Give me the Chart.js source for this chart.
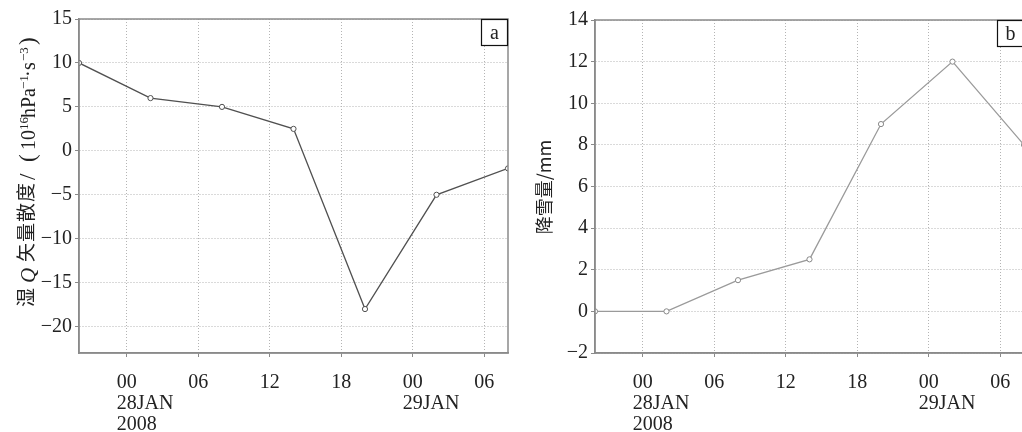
<!DOCTYPE html>
<html><head><meta charset="utf-8">
<script src="https://cdn.jsdelivr.net/npm/chart.js@4/dist/chart.umd.min.js"></script>
<style>
html,body{margin:0;padding:0;background:#fff;overflow:hidden;width:1022px;height:432px;}
#wa{position:absolute;left:0;top:0;width:520px;height:432px;}
#wb{position:absolute;left:514px;top:0;width:510px;height:432px;}
</style></head><body>
<div id="wa"><canvas id="ca"></canvas></div>
<div id="wb"><canvas id="cb"></canvas></div>
<script>
// Data (hours relative to 00 UTC 28 JAN 2008)
const hours = [-4, 2, 8, 14, 20, 26, 32];
const qDivergence = [10, 6, 5, 2.5, -18, -5, -2];
const snowfall = [0, 0, 1.5, 2.5, 9, 12, 8];
const xTickHours = [0, 6, 12, 18, 24, 30];
const xTickLabels = [['00', '28JAN', '2008'], ['06'], ['12'], ['18'], ['00', '29JAN'], ['06']];
const yTicksA = [-20, -15, -10, -5, 0, 5, 10, 15];
const yTicksB = [-2, 0, 2, 4, 6, 8, 10, 12, 14];
const yRangeA = [-23, 15];
const yRangeB = [-2, 14];
const xRange = [-4, 32];
const titleBText = '降雪量/mm';
const panelA = 'a', panelB = 'b';

const SERIF = '"Liberation Serif", "DejaVu Serif", serif';
const CJK = '"Noto Sans CJK SC", sans-serif';
const TXT = '#222';
const FRAME = '#8a8a8a';
const GRID = '#b4b4b4';

function xScale() {
  return {
    type: 'linear', min: xRange[0], max: xRange[1],
    afterBuildTicks(s) { s.ticks = xTickHours.map(v => ({ value: v })); },
    afterFit(s) { s.height = 79; s.paddingLeft = 0; s.paddingRight = 0; },
    ticks: {
      autoSkip: false, maxRotation: 0, align: 'start', labelOffset: -10, padding: 15,
      font: { family: SERIF, size: 20, lineHeight: 1.05 }, color: TXT,
      callback(v) { const i = xTickHours.indexOf(v); return i >= 0 ? xTickLabels[i] : ''; }
    },
    grid: { color: GRID, lineWidth: 1, tickLength: 4, tickColor: FRAME, tickBorderDash: [] },
    border: { color: FRAME, width: 1.5, dash: [1, 2] }
  };
}
function yScale(range, ticks, width) {
  return {
    type: 'linear', min: range[0], max: range[1],
    afterBuildTicks(s) { s.ticks = ticks.map(v => ({ value: v })); },
    afterFit(s) { s.width = width; },
    ticks: {
      autoSkip: false, padding: 3,
      font: { family: SERIF, size: 20 }, color: TXT,
      callback(v) { return String(v).replace('-', '\u2212'); }
    },
    grid: { color: GRID, lineWidth: 1, tickLength: 4, tickColor: FRAME, tickBorderDash: [] },
    border: { color: FRAME, width: 1.5, dash: [1, 2] }
  };
}
function framePlugin(letter) {
  return {
    id: 'frame' + letter,
    afterDraw(chart) {
      const a = chart.chartArea, ctx = chart.ctx;
      ctx.save();
      ctx.strokeStyle = FRAME; ctx.lineWidth = 1.5;
      ctx.strokeRect(a.left, a.top, a.right - a.left, a.bottom - a.top);
      const bw = 27, bh = 27;
      ctx.fillStyle = '#fff';
      ctx.fillRect(a.right - bw, a.top, bw, bh);
      ctx.strokeStyle = '#111'; ctx.lineWidth = 1.2;
      ctx.strokeRect(a.right - bw + 0.5, a.top + 0.5, bw - 1, bh - 1);
      ctx.fillStyle = TXT; ctx.font = '20px ' + SERIF;
      ctx.textAlign = 'center'; ctx.textBaseline = 'middle';
      ctx.fillText(letter, a.right - bw / 2, a.top + bh / 2 + 1);
      ctx.restore();
    }
  };
}
// y-axis title of panel a, pieces laid out along the rotated baseline (u = distance from start)
const titleAPlugin = {
  id: 'titleA',
  afterDraw(chart) {
    const ctx = chart.ctx;
    const C = '19px ' + CJK, S = '20px ' + SERIF, P = '13px ' + SERIF;
    const parts = [
      { t: '湿', f: C, u: 0, v: -1 },
      { t: 'Q', f: 'italic 21px ' + SERIF, u: 24, v: 1 },
      { t: '矢', f: C, u: 45, v: -1 },
      { t: '量', f: C, u: 65, v: -1 },
      { t: '散', f: C, u: 85, v: -1 },
      { t: '度', f: C, u: 105, v: -1 },
      { t: '/', f: '23px ' + SERIF, u: 127, v: 1 },
      { t: '(', f: '23px ' + SERIF, u: 145, v: 1 },
      { t: '10', f: S, u: 157, v: 1 },
      { t: '16', f: P, u: 177, v: -6 },
      { t: 'hPa', f: S, u: 189, v: 1 },
      { t: '\u22121', f: P, u: 218, v: -6 },
      { t: '\u00B7', f: S, u: 230, v: 1 },
      { t: 's', f: S, u: 237, v: 1 },
      { t: '\u22123', f: P, u: 246, v: -6 },
      { t: ')', f: '23px ' + SERIF, u: 262, v: 1 }
    ];
    ctx.save();
    ctx.translate(34, 307); ctx.rotate(-Math.PI / 2);
    ctx.textBaseline = 'alphabetic'; ctx.textAlign = 'left'; ctx.fillStyle = TXT;
    for (const p of parts) { ctx.font = p.f; ctx.fillText(p.t, p.u, p.v); }
    ctx.restore();
  }
};
const titleBPlugin = {
  id: 'titleB',
  afterDraw(chart) {
    const ctx = chart.ctx;
    ctx.save();
    ctx.translate(551 - 514, 187); ctx.rotate(-Math.PI / 2);
    ctx.font = '18px ' + CJK; ctx.fillStyle = TXT;
    ctx.textAlign = 'center'; ctx.textBaseline = 'alphabetic';
    ctx.fillText(titleBText, 0, 0);
    ctx.restore();
  }
};

Chart.defaults.animation = false;

new Chart(document.getElementById('ca'), {
  type: 'line',
  data: { datasets: [{
    data: hours.map((h, i) => ({ x: h, y: qDivergence[i] })),
    borderColor: '#505050', borderWidth: 1.3, tension: 0,
    pointRadius: 2.6, pointHoverRadius: 2.6, pointBackgroundColor: '#fff', pointBorderColor: '#505050', pointBorderWidth: 1
  }] },
  options: {
    responsive: true, maintainAspectRatio: false,
    layout: { autoPadding: false, padding: { top: 19, right: 12, left: 0, bottom: 0 } },
    plugins: { legend: { display: false }, tooltip: { enabled: false } },
    scales: { x: xScale(), y: yScale(yRangeA, yTicksA, 79) }
  },
  plugins: [framePlugin(panelA), titleAPlugin]
});

new Chart(document.getElementById('cb'), {
  type: 'line',
  data: { datasets: [{
    data: hours.map((h, i) => ({ x: h, y: snowfall[i] })),
    borderColor: '#9a9a9a', borderWidth: 1.3, tension: 0,
    pointRadius: 2.6, pointHoverRadius: 2.6, pointBackgroundColor: '#fff', pointBorderColor: '#888', pointBorderWidth: 1
  }] },
  options: {
    responsive: true, maintainAspectRatio: false,
    layout: { autoPadding: false, padding: { top: 20, right: 0, left: 0, bottom: 0 } },
    plugins: { legend: { display: false }, tooltip: { enabled: false } },
    scales: { x: xScale(), y: yScale(yRangeB, yTicksB, 81) }
  },
  plugins: [framePlugin(panelB), titleBPlugin]
});
</script>
</body></html>
